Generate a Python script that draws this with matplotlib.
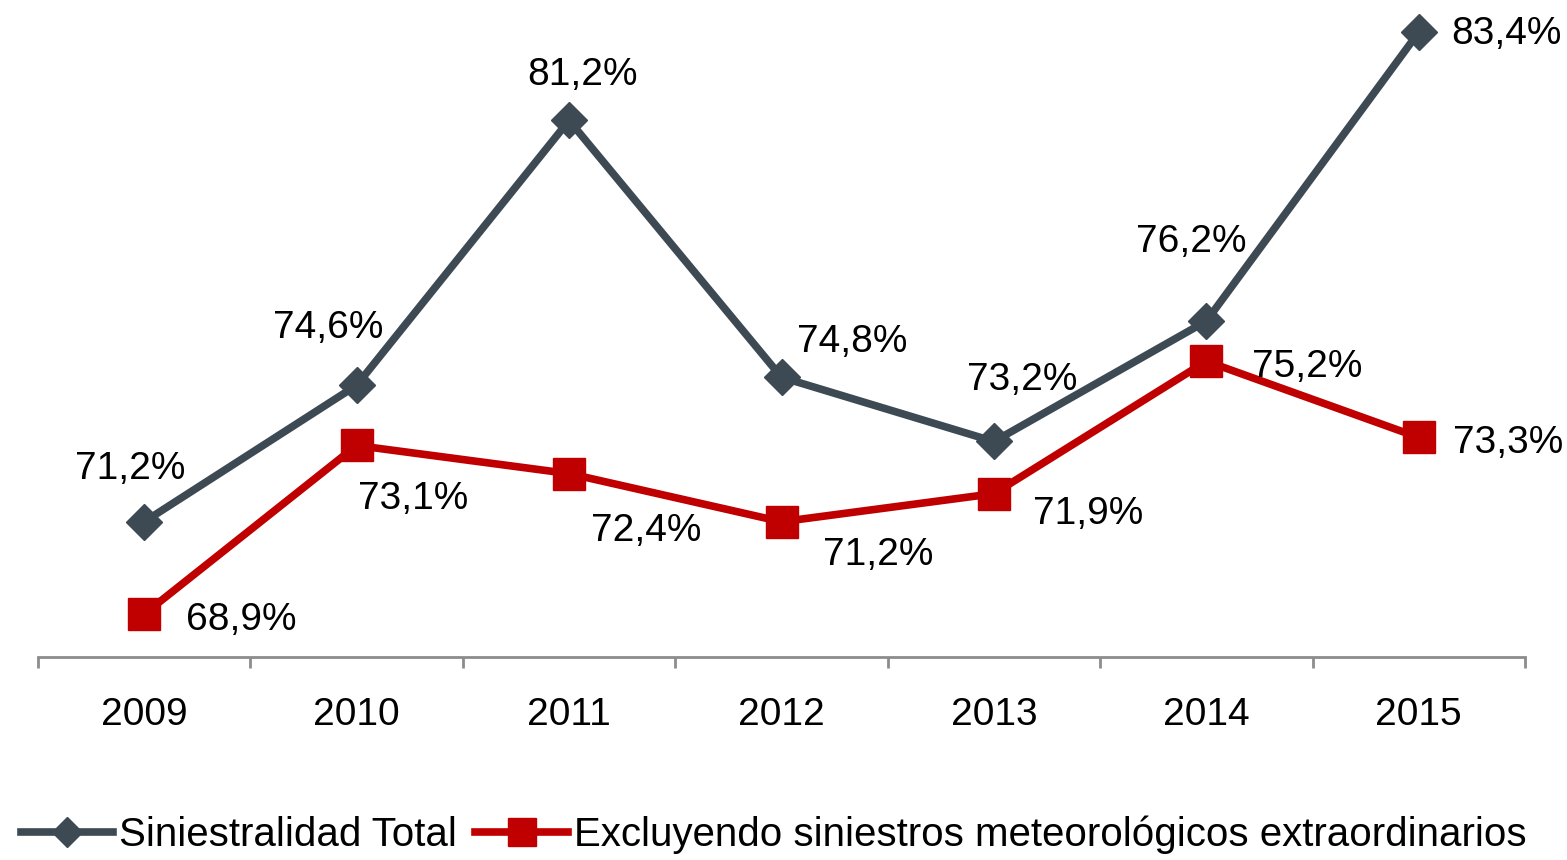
import matplotlib
matplotlib.use("Agg")
import matplotlib.pyplot as plt
from matplotlib.ticker import FixedLocator

plt.rcParams['font.family'] = ['Liberation Sans', 'DejaVu Sans']

years = ["2009", "2010", "2011", "2012", "2013", "2014", "2015"]
total = [71.2, 74.6, 81.2, 74.8, 73.2, 76.2, 83.4]
excl = [68.9, 73.1, 72.4, 71.2, 71.9, 75.2, 73.3]
name_total = "Siniestralidad Total"
name_excl = "Excluyendo siniestros meteorológicos extraordinarios"

# label offsets in pixels (dx, dy)
off_total = [(-14, 53), (-28, 57), (13, 45), (71, 35), (28, 61), (-15, 79), (88, -2)]
off_excl = [(97, -6), (56, -54), (77, -57), (97, -33), (94, -20), (101, -6), (89, -6)]

W, H = 1567, 860
fig = plt.figure(figsize=(W / 100, H / 100), dpi=100)
ax = fig.add_axes([38 / W, (H - 657) / H, (1525 - 38) / W, 657 / H])

gray = "#3D4A53"
red = "#C00000"
x = list(range(len(years)))
ax.plot(x, total, color=gray, lw=5.5, marker="D", ms=18, mfc=gray, mec=gray,
        label=name_total, clip_on=False, zorder=3)
ax.plot(x, excl, color=red, lw=5.5, marker="s", ms=23, mfc=red, mec=red,
        label=name_excl, clip_on=False, zorder=3)

fs = 28
def fmt(v):
    return f"{v:.1f}".replace(".", ",") + "%"

for xi, v, o in zip(x, total, off_total):
    ax.annotate(fmt(v), (xi, v), xytext=o, textcoords="offset pixels",
                ha="center", va="center", fontsize=fs, color="black")
for xi, v, o in zip(x, excl, off_excl):
    ax.annotate(fmt(v), (xi, v), xytext=o, textcoords="offset pixels",
                ha="center", va="center", fontsize=fs, color="black")

ax.set_xlim(-0.5, len(years) - 0.5)
ax.set_ylim(67.83, 84.2)
for s in ["top", "right", "left"]:
    ax.spines[s].set_visible(False)
ax.spines["bottom"].set_color("#8C8C8C")
ax.spines["bottom"].set_linewidth(2)
ax.set_yticks([])
ax.xaxis.set_major_locator(FixedLocator([i - 0.5 for i in range(len(years) + 1)]))
ax.xaxis.set_major_formatter(plt.NullFormatter())
ax.xaxis.set_minor_locator(FixedLocator(x))
ax.set_xticklabels(years, minor=True)
ax.tick_params(axis="x", which="major", direction="out", length=8, width=2, color="#8C8C8C")
ax.tick_params(axis="x", which="minor", length=0, pad=29, labelsize=fs)

fig.legend(loc="lower left", bbox_to_anchor=(0.003, -0.012), ncol=2, frameon=False,
           fontsize=29, handlelength=2.3, handletextpad=0.15, columnspacing=0.45,
           borderaxespad=0, markerscale=0.85)

fig.savefig("out.png", dpi=100)
